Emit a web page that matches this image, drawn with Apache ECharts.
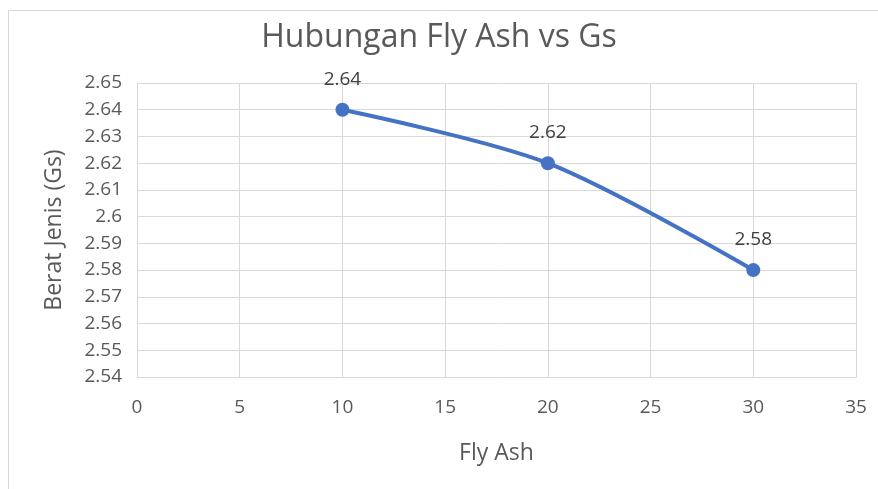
<!DOCTYPE html>
<html>
<head>
<meta charset="utf-8">
<script src="https://cdn.jsdelivr.net/npm/echarts@6/dist/echarts.min.js"></script>
<style>
html,body{margin:0;padding:0;background:#fff;}
#chart{width:878px;height:489px;}
</style>
</head>
<body>
<div id="chart"></div>
<script>
var titleText = "Hubungan Fly Ash vs Gs";
var xName = "Fly Ash";
var yName = "Berat Jenis (Gs)";
var flyAsh = [10, 20, 30];
var gsValues = [2.64, 2.62, 2.58];

var FONT = "Open Sans";
var chart = echarts.init(document.getElementById('chart'));
chart.setOption({
  animation: false,
  backgroundColor: '#fff',
  graphic: [{
    type: 'rect', silent: true, z: -1,
    shape: {x: 8.5, y: 10.5, width: 900, height: 500},
    style: {fill: 'none', stroke: '#d9d9d9', lineWidth: 1}
  }],
  title: {
    text: titleText, left: 'center', top: 17,
    textStyle: {fontFamily: FONT, fontSize: 32, fontWeight: 'normal', color: '#595959'}
  },
  grid: {left: 137, right: 22, top: 83, bottom: 112},
  xAxis: {
    type: 'value', min: 0, max: 35, interval: 5,
    name: xName, nameLocation: 'middle', nameGap: 65,
    nameTextStyle: {fontFamily: FONT, fontSize: 23, color: '#595959'},
    axisLine: {show: true, lineStyle: {color: '#d9d9d9'}},
    axisTick: {show: false},
    axisLabel: {fontFamily: FONT, fontSize: 19, color: '#595959', margin: 21},
    splitLine: {show: true, lineStyle: {color: '#d9d9d9', width: 1}}
  },
  yAxis: {
    type: 'value', min: 2.54, max: 2.65, interval: 0.01,
    name: yName, nameLocation: 'middle', nameGap: 71, nameRotate: 90,
    nameTextStyle: {fontFamily: FONT, fontSize: 23, color: '#595959'},
    axisLine: {show: true, lineStyle: {color: '#d9d9d9'}},
    axisTick: {show: false},
    axisLabel: {fontFamily: FONT, fontSize: 19, color: '#595959', margin: 15,
      formatter: function (v) { return String(parseFloat(v.toFixed(2))); }},
    splitLine: {show: true, lineStyle: {color: '#d9d9d9', width: 1}}
  },
  series: [{
    type: 'line',
    data: flyAsh.map(function (x, i) { return [x, gsValues[i]]; }),
    smooth: 0.3,
    symbol: 'circle', symbolSize: 14,
    lineStyle: {color: '#4472c4', width: 4},
    itemStyle: {color: '#4472c4'},
    label: {show: true, position: 'top', distance: 14,
      fontFamily: FONT, fontSize: 19, color: '#404040',
      formatter: function (p) { return p.value[1]; }}
  }]
});
</script>
</body>
</html>
